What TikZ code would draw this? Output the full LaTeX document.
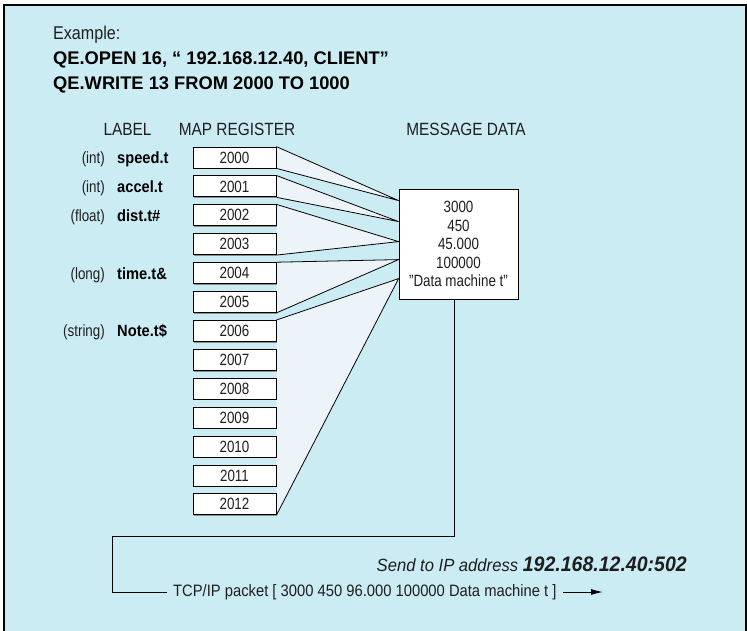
\documentclass[tikz,border=0pt]{standalone}
\usepackage{fontspec}
\setmainfont{Liberation Sans}[FakeStretch=0.82]
\newfontfamily\fhead{Liberation Sans}[FakeStretch=0.87]
\newfontfamily\flab{Liberation Sans}[FakeStretch=0.9]
\newfontfamily\fwide{Liberation Sans}
\newfontfamily\faddr{Liberation Sans}[FakeStretch=0.93]
\newfontfamily\fsend{Liberation Sans}[FakeStretch=0.94]
\newfontfamily\ftcp{Liberation Sans}[FakeStretch=0.895]
\usetikzlibrary{arrows.meta,calc,backgrounds}
\definecolor{bgblue}{RGB}{204,236,244}
\definecolor{wedgefill}{RGB}{236,244,250}
\definecolor{ink}{RGB}{30,30,30}
\tikzset{
  reg/.style={draw=black, line width=0.8pt, fill=white, minimum width=83pt, minimum height=21pt, inner sep=0pt, font=\fontsize{16.3}{18}\selectfont, text=ink},
  msgbox/.style={draw=black, line width=0.8pt, fill=white, minimum width=119pt, minimum height=110pt, inner sep=0pt, align=center, font=\fontsize{16.3}{18.5}\selectfont, text=ink},
  typ/.style={anchor=base east, inner sep=0pt, font=\fontsize{16.3}{18}\selectfont, text=ink},
  nam/.style={anchor=base west, inner sep=0pt, font=\flab\bfseries\fontsize{16.3}{18}\selectfont, text=black},
  hdr/.style={anchor=base, inner sep=0pt, font=\fhead\fontsize{17.7}{20}\selectfont, text=ink},
  ttl/.style={anchor=base west, inner sep=0pt, font=\fwide\bfseries\fontsize{18.3}{20}\selectfont, text=black},
  wedgeline/.style={draw=black, line width=0.8pt},
  conn/.style={draw=black, line width=1pt}
}
\begin{document}
\begin{tikzpicture}[x=1pt,y=-1pt]
\useasboundingbox (0,0) rectangle (747,631);
\begin{scope}[on background layer]
  \fill[white] (0,0) rectangle (747,631);
  \fill[bgblue] (5,5) rectangle (746,631);
\end{scope}
% title
\node[anchor=base west, inner sep=0pt, font=\fhead\fontsize{18.5}{20}\selectfont, text=ink] (ex) at (53,40) {Example:};
\node[ttl] (cmd1) at (53,65) {QE.OPEN 16, “ 192.168.12.40, CLIENT”};
\node[ttl] (cmd2) at (53,90) {QE.WRITE 13 FROM 2000 TO 1000};
% headers
\node[hdr] (hlabel) at (127.5,136) {LABEL};
\node[hdr] (hmap) at (237,136) {MAP REGISTER};
\node[hdr] (hmsg) at (466,136) {MESSAGE DATA};
% registers
\foreach \i [evaluate=\i as \n using {int(2000+\i)}] in {0,...,12}{
  \fill[black!45] ({193+1.2},{147+28.9*\i+1.2}) rectangle ++(83,21);
  \node[reg] (r\i) at (234.5,{157.5+28.9*\i}) {\n};
}
% labels
\node[typ] (t0) at ($(r0.center)+(-129.5,6)$) {(int)};
\node[nam] (n0) at ($(r0.center)+(-117.5,6)$) {speed.t};
\node[typ] (t1) at ($(r1.center)+(-129.5,6)$) {(int)};
\node[nam] (n1) at ($(r1.center)+(-117.5,6)$) {accel.t};
\node[typ] (t2) at ($(r2.center)+(-129.5,6)$) {(float)};
\node[nam] (n2) at ($(r2.center)+(-117.5,6)$) {dist.t\#};
\node[typ] (t4) at ($(r4.center)+(-129.5,6)$) {(long)};
\node[nam] (n4) at ($(r4.center)+(-117.5,6)$) {time.t\&};
\node[typ] (t6) at ($(r6.center)+(-129.5,6)$) {(string)};
\node[nam] (n6) at ($(r6.center)+(-117.5,6)$) {Note.t\$};
% message box
\node[msgbox] (msg) at (458.5,244) {3000\\450\\45.000\\100000\\"Data machine t"};
\coordinate (a1) at ($(msg.north west)+(0,12)$);
\coordinate (a2) at ($(msg.north west)+(0,33)$);
\coordinate (a3) at ($(msg.north west)+(0,53)$);
\coordinate (a4) at ($(msg.north west)+(0,71)$);
\coordinate (a5) at ($(msg.north west)+(0,90)$);
\begin{scope}[on background layer]
  \fill[wedgefill] (r0.north east) -- (a1) -- (r0.south east) -- cycle;
  \fill[wedgefill] (r1.north east) -- (a2) -- (r1.south east) -- cycle;
  \fill[wedgefill] (r2.north east) -- (a3) -- (r3.south east) -- cycle;
  \fill[wedgefill] (r4.north east) -- (a4) -- (r5.south east) -- cycle;
  \fill[wedgefill] (r6.north east) -- (a5) -- (r12.south east) -- cycle;
  \draw[wedgeline] (r0.north east) -- (a1) -- (r0.south east);
  \draw[wedgeline] (r1.north east) -- (a2) -- (r1.south east);
  \draw[wedgeline] (r2.north east) -- (a3) -- (r3.south east);
  \draw[wedgeline] (r4.north east) -- (a4) -- (r5.south east);
  \draw[wedgeline] (r6.north east) -- (a5) -- (r12.south east);
\end{scope}
% send text
\node[anchor=base east, inner sep=0pt, text=ink] (send) at (687,571) {\fsend\itshape\fontsize{17.7}{20}\selectfont Send to IP address {\faddr\bfseries\itshape\fontsize{21}{22}\selectfont 192.168.12.40:502}};
% packet line
\node[anchor=west, inner ysep=0pt, inner xsep=6pt, font=\ftcp\fontsize{16.5}{18}\selectfont, text=ink] (tcp) at (167,592) {TCP/IP packet [ 3000 450 96.000 100000 Data machine t ]};
\coordinate (m0) at ($(msg.south)+(-4,0)$);
\coordinate (k1) at (112,536);
\coordinate (k2) at (112,592);
\coordinate (aend) at (603,592);
\draw[conn] (m0) |- (k1) -- (k2) -- (tcp.west);
\draw[conn, -{Latex[length=12pt,width=6pt]}] (tcp.east) -- (aend);
% frame
\draw[line width=2.5pt] (4,631) -- (4,5) -- (747,5);
\draw[line width=2.5pt] (745.8,5) -- (745.8,631);
\end{tikzpicture}
\end{document}
